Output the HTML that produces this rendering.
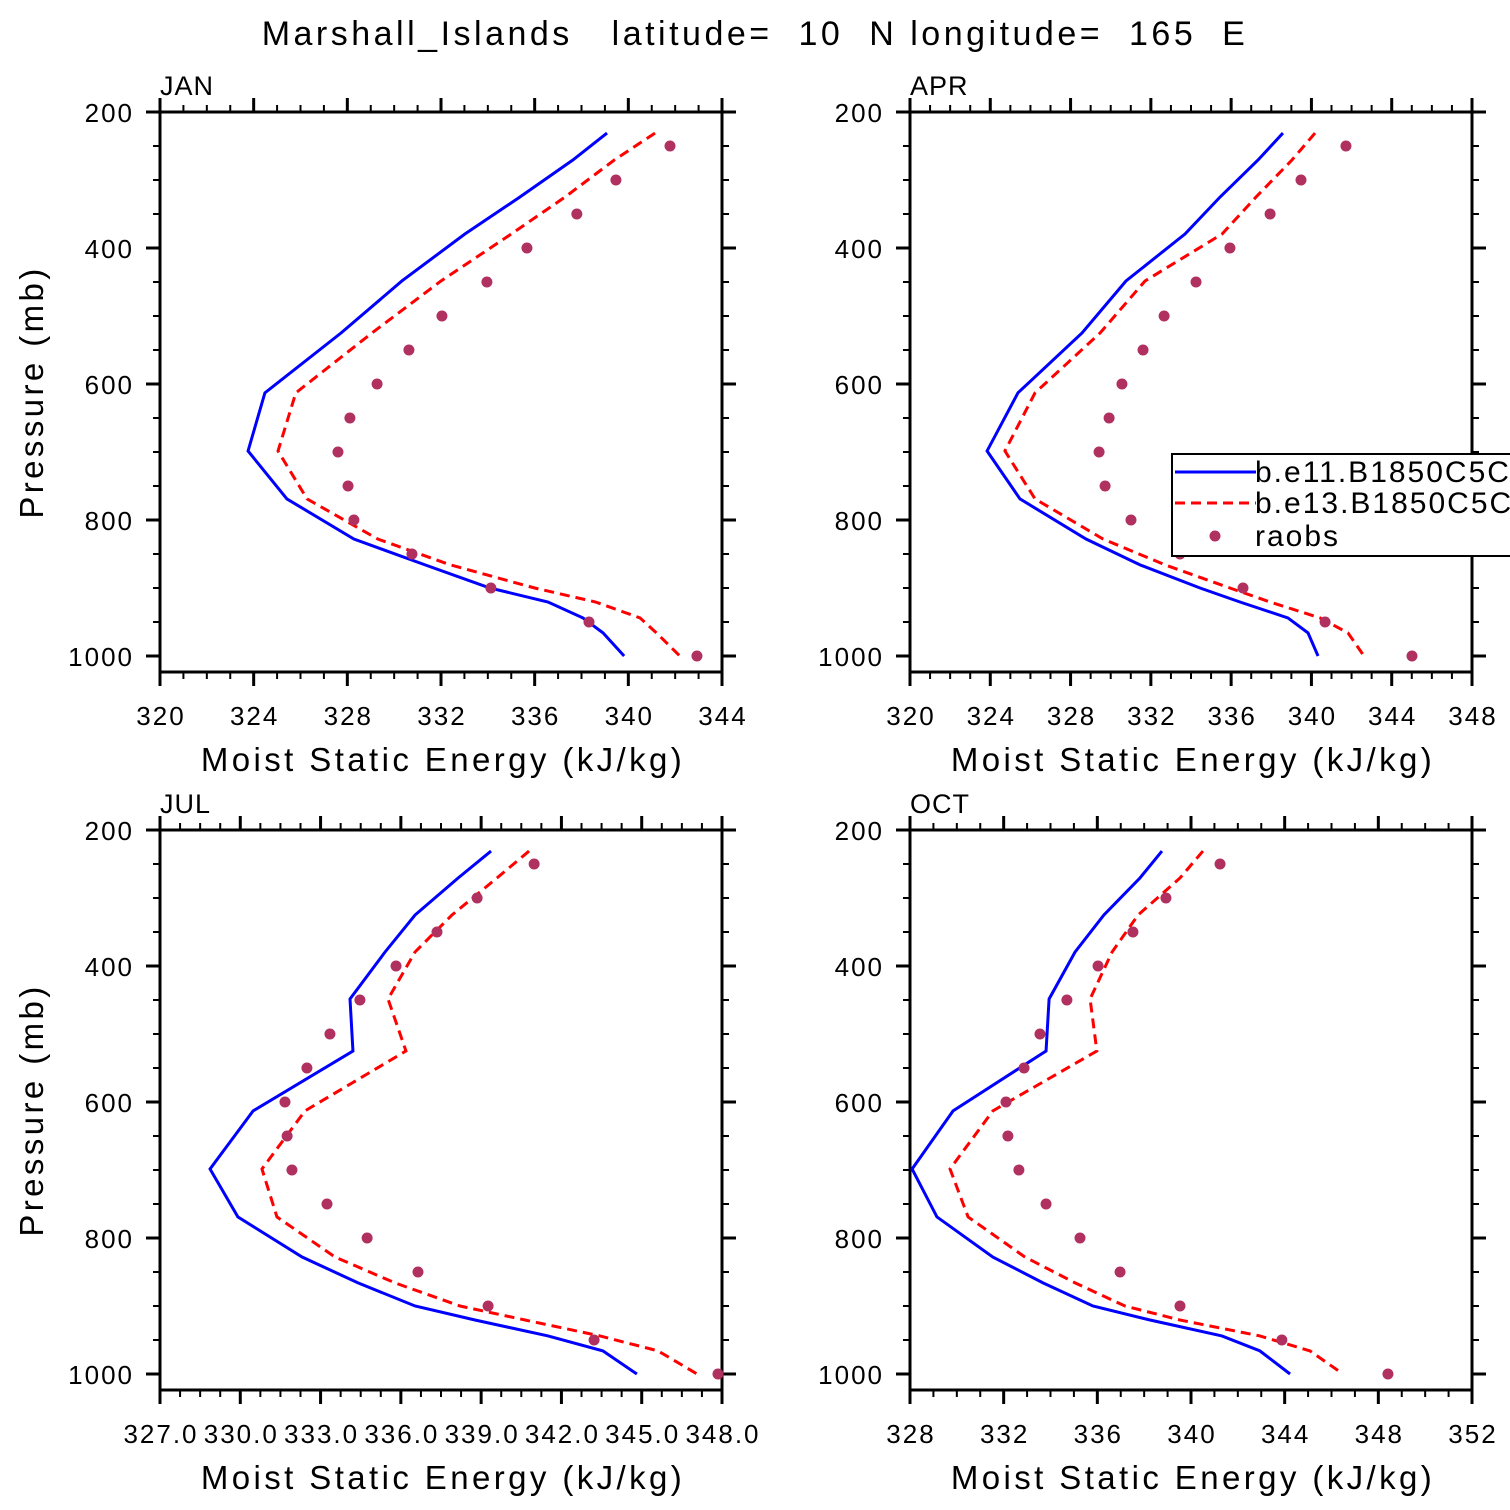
<!DOCTYPE html>
<html><head><meta charset="utf-8"><style>
body{margin:0;background:#fff}
svg{display:block}
text{font-family:"Liberation Sans",sans-serif;fill:#000;white-space:pre}
</style></head><body>
<svg id="s" width="1510" height="1510" viewBox="0 0 1510 1510">
<text x="755" y="45" text-anchor="middle" font-size="34" letter-spacing="3.5">Marshall_Islands   latitude=  10  N longitude=  165  E</text>
</svg>
<script>
const modelP=[231,270.6,325,379.4,448.5,525,613,698.5,769,828,866,900,920.6,944,966,1000];
const obsP=[250,300,350,400,450,500,550,600,650,700,750,800,850,900,950,1000];
const janBlue=[339.09,337.63,335.37,333.02,330.33,327.73,324.48,323.76,325.42,328.28,331.32,334.09,336.57,338.06,338.92,339.82];
const janRed=[341.14,339.4,337.3,335.0,332.0,329.05,325.8,325.04,326.28,329.3,332.4,336.0,338.6,340.5,341.2,342.2];
const janObs=[341.78,339.47,337.80,335.67,333.96,332.04,330.63,329.27,328.11,327.60,328.03,328.28,330.76,334.13,338.32,342.93];
const aprBlue=[338.58,337.34,335.45,333.70,330.76,328.57,325.38,323.84,325.48,328.77,331.46,334.45,336.44,338.83,339.83,340.33];
const aprRed=[340.18,339.03,337.24,335.55,331.71,329.47,326.23,324.73,326.23,329.62,332.71,335.94,337.94,340.43,341.82,342.62];
const aprObs=[341.72,339.48,337.94,335.94,334.25,332.66,331.61,330.56,329.92,329.42,329.72,331.01,333.45,336.59,340.68,345.01];
const julBlue=[339.37,338.14,336.53,335.41,334.10,334.21,330.48,328.87,329.91,332.31,334.40,336.53,338.77,341.50,343.55,344.82];
const julRed=[340.79,339.59,337.91,336.53,335.52,336.19,332.42,330.81,331.37,333.54,335.78,338.21,340.64,343.44,345.61,347.07];
const julObs=[340.98,338.85,337.35,335.82,334.47,333.35,332.49,331.67,331.75,331.93,333.24,334.74,336.64,339.26,343.22,347.85];
const octBlue=[338.76,337.82,336.28,335.05,333.94,333.81,329.84,328.09,329.15,331.54,333.68,335.81,338.25,341.32,342.94,344.23];
const octRed=[340.51,339.53,337.74,336.63,335.69,335.98,331.54,329.71,330.48,332.91,335.05,337.18,339.53,342.94,345.08,346.49];
const octObs=[341.24,338.93,337.52,336.03,334.70,333.55,332.87,332.10,332.18,332.65,333.81,335.26,336.97,339.53,343.88,348.41];
const pTicks=[200,400,600,800,1000];
const janTicks=["320","324","328","332","336","340","344"];
const aprTicks=["320","324","328","332","336","340","344","348"];
const julTicks=["327.0","330.0","333.0","336.0","339.0","342.0","345.0","348.0"];
const octTicks=["328","332","336","340","344","348","352"];

const svg=document.getElementById('s');
const NS='http://www.w3.org/2000/svg';
function mk(tag,attrs,parent){const e=document.createElementNS(NS,tag);for(const k in attrs)e.setAttribute(k,attrs[k]);(parent||svg).appendChild(e);return e;}

const panels=[
 {name:'jan',label:'JAN',x0:160,y0:112,xmin:320,xmax:344,major:4,minor:1,ticks:janTicks,b:janBlue,r:janRed,o:janObs,yt:true},
 {name:'apr',label:'APR',x0:910,y0:112,xmin:320,xmax:348,major:4,minor:1,ticks:aprTicks,b:aprBlue,r:aprRed,o:aprObs,yt:false},
 {name:'jul',label:'JUL',x0:160,y0:830,xmin:327,xmax:348,major:3,minor:0.75,ticks:julTicks,b:julBlue,r:julRed,o:julObs,yt:true},
 {name:'oct',label:'OCT',x0:910,y0:830,xmin:328,xmax:352,major:4,minor:1,ticks:octTicks,b:octBlue,r:octRed,o:octObs,yt:false}
];
const W=562,H=560;
panels.forEach(p=>{
 const g=mk('g',{});
 
 
 const xs=v=>p.x0+(v-p.xmin)/(p.xmax-p.xmin)*W;
 const ys=v=>p.y0+(v-200)*0.68;
 const bot=p.y0+H, right=p.x0+W;
 for(let v=p.xmin;v<=p.xmax+1e-6;v+=p.minor){const x=xs(v);const maj=Math.abs(((v-p.xmin)/p.major)-Math.round((v-p.xmin)/p.major))<1e-6;const L=maj?14:7;const w=maj?3:2;
  mk('line',{x1:x,x2:x,y1:p.y0,y2:p.y0-L,stroke:'#000','stroke-width':w},g);
  mk('line',{x1:x,x2:x,y1:bot,y2:bot+L,stroke:'#000','stroke-width':w},g);}
 for(let v=200;v<=1000;v+=50){const y=ys(v);const maj=v%200===0;const L=maj?14:7;const w=maj?3:2;
  mk('line',{x1:p.x0,x2:p.x0-L,y1:y,y2:y,stroke:'#000','stroke-width':w},g);
  mk('line',{x1:right,x2:right+L,y1:y,y2:y,stroke:'#000','stroke-width':w},g);}
 mk('rect',{x:p.x0,y:p.y0,width:W,height:H,fill:'none',stroke:'#000','stroke-width':3},g);
 p.ticks.forEach((t,i)=>{const tx=mk('text',{x:xs(p.xmin+i*p.major)+1,y:bot+53,'text-anchor':'middle','font-size':26,'letter-spacing':2},g);tx.textContent=t;
  
  });
 pTicks.forEach(t=>{const tx=mk('text',{x:p.x0-26,y:ys(t)+10,'text-anchor':'end','font-size':26,'letter-spacing':2},g);tx.textContent=t;
  
  });
 const lb=mk('text',{x:p.x0,y:p.y0-17,'font-size':27,'letter-spacing':1},g);lb.textContent=p.label;
 
 
 const xt=mk('text',{x:p.x0+W/2+2,y:bot+99,'text-anchor':'middle','font-size':33,'letter-spacing':3.4},g);xt.textContent='Moist Static Energy (kJ/kg)';
 
 
 if(p.yt){
 const yt=mk('text',{x:0,y:0,'text-anchor':'middle','font-size':33,'letter-spacing':3.4,transform:`translate(${p.x0-117},${p.y0+280}) rotate(-90)`},g);yt.textContent='Pressure (mb)';
 
 
 }
 const pb=mk('polyline',{points:p.b.map((v,i)=>xs(v)+','+ys(modelP[i])).join(' '),fill:'none',stroke:'#0000ff','stroke-width':3},g);
 
 
 const pr=mk('polyline',{points:p.r.map((v,i)=>xs(v)+','+ys(modelP[i])).join(' '),fill:'none',stroke:'#ff0000','stroke-width':3,'stroke-dasharray':'10,6'},g);
 
 
 p.o.forEach((v,i)=>{const c=mk('circle',{cx:xs(v),cy:ys(obsP[i]),r:5.5,fill:'#b03060'},g);
  
  });
});
const lg=mk('g',{});


mk('rect',{x:1172,y:454,width:345,height:102,fill:'#fff',stroke:'#000','stroke-width':2},lg);
mk('line',{x1:1175,x2:1256,y1:472,y2:472,stroke:'#0000ff','stroke-width':3},lg);
mk('line',{x1:1175,x2:1256,y1:503,y2:503,stroke:'#ff0000','stroke-width':3,'stroke-dasharray':'10,6'},lg);
mk('circle',{cx:1215,cy:536,r:5.5,fill:'#b03060'},lg);
[['b.e11.B1850C5CN',482],['b.e13.B1850C5CN',513],['raobs',546]].forEach(([t,y])=>{const tx=mk('text',{x:1255,y:y,'font-size':30,'letter-spacing':2},lg);tx.textContent=t;
 
 });
</script>
</body></html>
